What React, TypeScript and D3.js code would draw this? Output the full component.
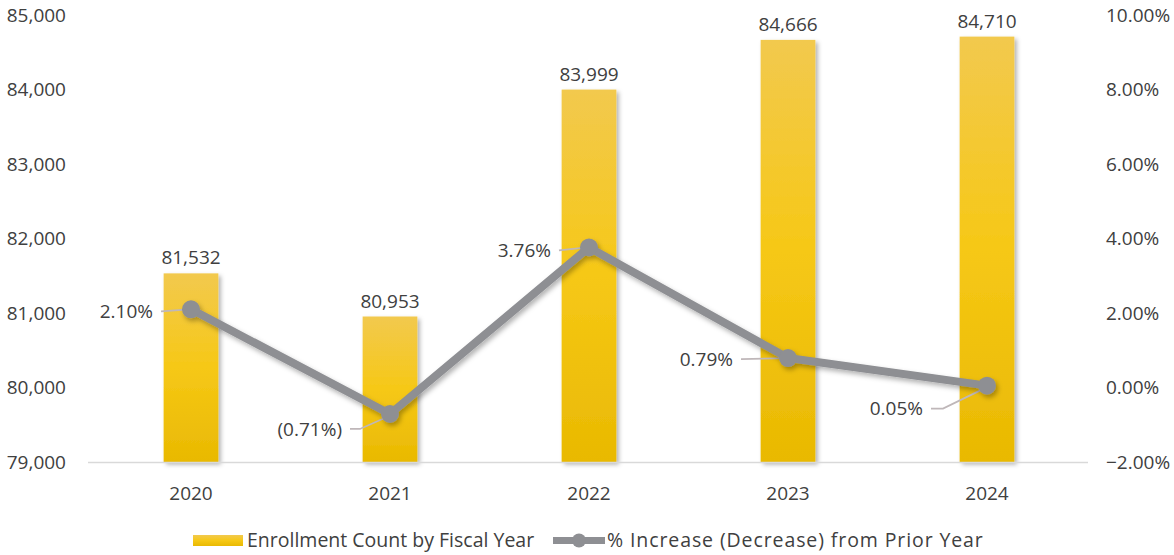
import React from "react";
import * as d3 from "d3";

const years = ["2020", "2021", "2022", "2023", "2024"];
const enrollment = [81532, 80953, 83999, 84666, 84710];
const pctChange = [2.1, -0.71, 3.76, 0.79, 0.05];
const leftTicks = [79000, 80000, 81000, 82000, 83000, 84000, 85000];
const rightTicks = [-2, 0, 2, 4, 6, 8, 10];
const barLegend = "Enrollment Count by Fiscal Year";
const lineLegend = "% Increase (Decrease) from Prior Year";
// label placement for the percentage labels (offset from point), style config
const pctLabelOffsets = [
  { dx: -38, dy: 2, bend: 0 },
  { dx: -48, dy: 15, bend: 10 },
  { dx: -38, dy: 3, bend: 0 },
  { dx: -55, dy: 1, bend: 0 },
  { dx: -64, dy: 23, bend: 12 },
];

const W = 1174;
const H = 555;
const FONT = "'Open Sans', sans-serif";
const TXT = "#404040";

export default function App() {
  const x = d3.scaleBand<string>().domain(years).range([91.5, 1086.5]).paddingInner(0.725).paddingOuter(0.3625);
  const yL = d3.scaleLinear().domain([79000, 85000]).range([462, 15]);
  const yR = d3.scaleLinear().domain([-2, 10]).range([462, 15]);
  const cx = (y: string) => (x(y) as number) + x.bandwidth() / 2;
  const fmtN = d3.format(",");
  const fmtP = (v: number) => (v < 0 ? `(${d3.format(".2f")(-v)}%)` : `${d3.format(".2f")(v)}%`);
  const fmtTick = (v: number) => `${d3.format(".2f")(v)}%`;

  const line = d3
    .line<number>()
    .x((_, i) => cx(years[i]))
    .y((d) => yR(d));

  return (
    <svg
      width={W}
      height={H}
      style={{ position: "absolute", left: 0, top: 0, background: "#fff" }}
      fontFamily={FONT}
    >
      <defs>
        <linearGradient id="barGrad" x1="0" y1="0" x2="0" y2="1">
          <stop offset="0%" stopColor="#f2c94e" />
          <stop offset="50%" stopColor="#f6c816" />
          <stop offset="100%" stopColor="#e9b902" />
        </linearGradient>
        <filter id="shadow" x="-20%" y="-20%" width="140%" height="140%">
          <feDropShadow dx="2.5" dy="2.5" stdDeviation="2" floodColor="#000" floodOpacity="0.3" />
        </filter>
        <filter id="lshadow" x="-5%" y="-20%" width="110%" height="140%">
          <feDropShadow dx="2" dy="3" stdDeviation="2.5" floodColor="#000" floodOpacity="0.3" />
        </filter>
      </defs>

      {/* left axis tick labels */}
      {leftTicks.map((t) => (
        <text key={t} x={66} y={yL(t)} dy="0.35em" textAnchor="end" fontSize={19} fill={TXT}>
          {fmtN(t)}
        </text>
      ))}
      {/* right axis tick labels */}
      {rightTicks.map((t) => (
        <text key={t} x={1106} y={yR(t)} dy="0.35em" textAnchor="start" fontSize={19} fill={TXT}>
          {fmtTick(t)}
        </text>
      ))}

      {/* bars */}
      {enrollment.map((v, i) => (
        <rect
          key={years[i]}
          x={x(years[i])}
          y={yL(v)}
          width={x.bandwidth()}
          height={yL(79000) - yL(v)}
          fill="url(#barGrad)"
          filter="url(#shadow)"
        />
      ))}

      {/* axis line */}
      <line x1={88} x2={1088} y1={462.5} y2={462.5} stroke="#d9d9d9" strokeWidth={1.5} />

      {/* bar labels */}
      {enrollment.map((v, i) => (
        <text key={years[i]} x={cx(years[i])} y={yL(v) - 9} textAnchor="middle" fontSize={19} fill={TXT}>
          {fmtN(v)}
        </text>
      ))}

      {/* category labels */}
      {years.map((y) => (
        <text key={y} x={cx(y)} y={493} dy="0.35em" textAnchor="middle" fontSize={19} fill={TXT}>
          {y}
        </text>
      ))}

      {/* leader lines */}
      {pctChange.map((v, i) => {
        const px = cx(years[i]);
        const py = yR(v);
        const o = pctLabelOffsets[i];
        const lx = px + o.dx + 8;
        const ly = py + o.dy;
        const path =
          o.bend > 0
            ? `M${lx},${ly} L${lx + o.bend},${ly} L${px - 3},${py + 3}`
            : `M${lx},${ly} L${px - 2},${py}`;
        return <path key={i} d={path} fill="none" stroke="#bfb7b9" strokeWidth={1.8} />;
      })}

      {/* line */}
      <g filter="url(#lshadow)">
        <path d={line(pctChange) || ""} fill="none" stroke="#8e8f93" strokeWidth={8} strokeLinejoin="round" />
        {pctChange.map((v, i) => (
          <circle key={i} cx={cx(years[i])} cy={yR(v)} r={9} fill="#8e8f93" />
        ))}
      </g>

      {/* pct labels */}
      {pctChange.map((v, i) => {
        const o = pctLabelOffsets[i];
        return (
          <text
            key={i}
            x={cx(years[i]) + o.dx}
            y={yR(v) + o.dy}
            dy="0.35em"
            textAnchor="end"
            fontSize={19}
            fill={TXT}
          >
            {fmtP(v)}
          </text>
        );
      })}

      {/* legend */}
      <rect x={193} y={535} width={50} height={11} fill="url(#barGrad)" />
      <text x={247} y={540.5} dy="0.35em" fontSize={19.5} fill={TXT}>
        {barLegend}
      </text>
      <line x1={553} x2={605} y1={540.5} y2={540.5} stroke="#8e8f93" strokeWidth={7} />
      <circle cx={579} cy={540.5} r={7} fill="#8e8f93" />
      <text x={607} y={540.5} dy="0.35em" fontSize={19.5} letterSpacing={0.9} fill={TXT}>
        {lineLegend}
      </text>
    </svg>
  );
}
